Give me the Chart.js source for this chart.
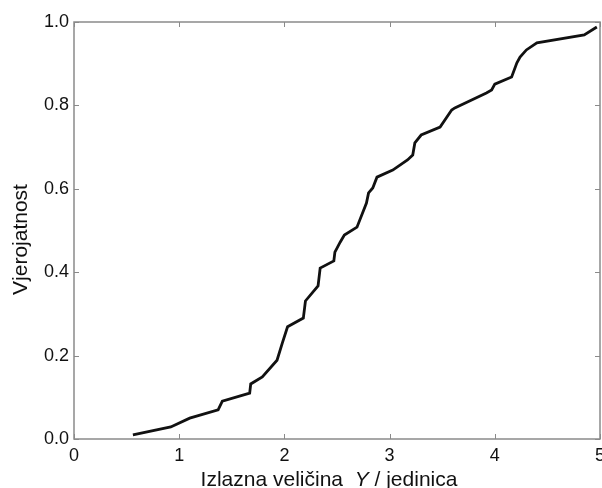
<!DOCTYPE html>
<html>
<head>
<meta charset="utf-8">
<script src="https://cdn.jsdelivr.net/npm/chart.js@4/dist/chart.umd.min.js"></script>
<style>
  html, body { margin: 0; padding: 0; background: #fff; overflow: hidden; }
  #wrap { width: 602px; height: 488px; position: relative; }
</style>
</head>
<body>
<div id="wrap"><canvas id="chart"></canvas></div>
<script>
// values
const xValues = [0.56, 0.92, 1.10, 1.37, 1.41, 1.67, 1.68, 1.79, 1.93, 1.98, 2.03, 2.18, 2.20, 2.32,
  2.34, 2.47, 2.48, 2.53, 2.57, 2.69, 2.78, 2.80, 2.84, 2.88, 3.03, 3.17, 3.22, 3.24, 3.30, 3.48,
  3.59, 3.62, 3.92, 3.97, 4.00, 4.16, 4.21, 4.24, 4.30, 4.40, 4.85, 4.97];
const yValues = [0.010, 0.029, 0.050, 0.070, 0.091, 0.110, 0.132, 0.149, 0.189, 0.230, 0.269, 0.290,
  0.331, 0.367, 0.410, 0.427, 0.448, 0.472, 0.489, 0.508, 0.566, 0.590, 0.602, 0.628, 0.645, 0.669,
  0.681, 0.710, 0.729, 0.748, 0.789, 0.794, 0.830, 0.837, 0.851, 0.868, 0.902, 0.916, 0.933, 0.950,
  0.969, 0.988];
const xTicks = [0, 1, 2, 3, 4, 5];
const yTicks = [0, 0.2, 0.4, 0.6, 0.8, 1.0];
const yTitle = 'Vjerojatnost';
const xTitleParts = [['Izlazna veličina  ', 'normal'], ['Y', 'italic'], [' / jedinica', 'normal']];

const FONT = '"Liberation Sans", Arial, Helvetica, sans-serif';
const frameColor = '#8a8a8a';

const points = xValues.map((x, i) => ({ x: x, y: yValues[i] }));

// frame on top/right, inward ticks, axis titles
const framePlugin = {
  id: 'frame',
  afterDraw(chart) {
    const { ctx, chartArea: a, scales } = chart;
    ctx.save();
    ctx.strokeStyle = frameColor;
    ctx.lineWidth = 1.5;
    ctx.strokeRect(a.left, a.top, a.right - a.left, a.bottom - a.top);
    ctx.lineWidth = 1;
    const len = 5;
    xTicks.forEach((v) => {
      const px = Math.round(scales.x.getPixelForValue(v)) + 0.5;
      ctx.beginPath();
      ctx.moveTo(px, a.bottom); ctx.lineTo(px, a.bottom - len);
      ctx.moveTo(px, a.top); ctx.lineTo(px, a.top + len);
      ctx.stroke();
    });
    yTicks.forEach((v) => {
      const py = Math.round(scales.y.getPixelForValue(v)) + 0.5;
      ctx.beginPath();
      ctx.moveTo(a.left, py); ctx.lineTo(a.left + len, py);
      ctx.moveTo(a.right, py); ctx.lineTo(a.right - len, py);
      ctx.stroke();
    });

    ctx.fillStyle = '#111';
    // x title, with italic Y
    let total = 0;
    xTitleParts.forEach(([t, s]) => {
      ctx.font = s + ' 21px ' + FONT;
      total += ctx.measureText(t).width;
    });
    let x = (a.left + a.right) / 2 - 8 - total / 2;
    ctx.textBaseline = 'alphabetic';
    ctx.textAlign = 'left';
    xTitleParts.forEach(([t, s]) => {
      ctx.font = s + ' 21px ' + FONT;
      ctx.fillText(t, x, 486);
      x += ctx.measureText(t).width;
    });

    // y title
    ctx.font = '21px ' + FONT;
    ctx.translate(27, (a.top + a.bottom) / 2 + 9);
    ctx.rotate(-Math.PI / 2);
    ctx.textAlign = 'center';
    ctx.fillText(yTitle, 0, 0);
    ctx.restore();
  }
};

new Chart(document.getElementById('chart'), {
  type: 'line',
  data: {
    datasets: [{
      data: points,
      borderColor: '#111',
      borderWidth: 2.8,
      pointRadius: 0,
      tension: 0,
      fill: false
    }]
  },
  options: {
    responsive: true,
    maintainAspectRatio: false,
    animation: false,
    layout: { padding: { top: 22, right: 2, left: 0, bottom: 0 } },
    plugins: { legend: { display: false }, tooltip: { enabled: false } },
    scales: {
      x: {
        type: 'linear',
        min: 0,
        max: 5,
        afterBuildTicks(scale) { scale.ticks = xTicks.map((v) => ({ value: v })); },
        afterFit(scale) { scale.height = 49; scale.paddingLeft = 0; scale.paddingRight = 0; },
        grid: { display: false, drawTicks: false },
        border: { display: false },
        ticks: {
          padding: 6,
          color: '#111',
          font: { family: FONT, size: 18 },
          maxRotation: 0
        }
      },
      y: {
        min: 0,
        max: 1,
        afterBuildTicks(scale) { scale.ticks = yTicks.map((v) => ({ value: v })); },
        afterFit(scale) { scale.width = 74; },
        grid: { display: false, drawTicks: false },
        border: { display: false },
        ticks: {
          padding: 5,
          color: '#111',
          font: { family: FONT, size: 18 },
          callback: (v) => v.toFixed(1)
        }
      }
    }
  },
  plugins: [framePlugin]
});
</script>
</body>
</html>
